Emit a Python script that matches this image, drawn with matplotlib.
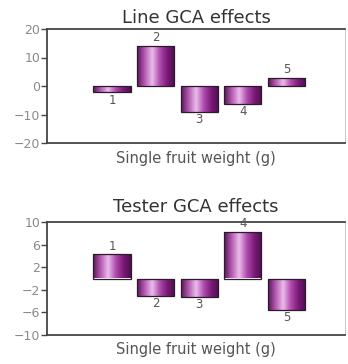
import numpy as np
import matplotlib.pyplot as plt
from matplotlib.colors import LinearSegmentedColormap

plt.rcParams['font.family'] = ['DejaVu Sans']

# GCA effects for single fruit weight (g)
parents = [1, 2, 3, 4, 5]
line_gca = [-2.2, 14.2, -9.0, -6.3, 2.9]
tester_gca = [4.3, -3.1, -3.2, 8.3, -5.5]

line_ticks = [20, 10, 0, -10, -20]
tester_ticks = [10, 6, 2, -2, -6, -10]

purple = LinearSegmentedColormap.from_list(
    'purple', ['#5a1458', '#b35ab0', '#ecbcec', '#b04cae', '#7a1a78', '#4e0e4c'])
grad = np.linspace(0, 1, 256).reshape(1, -1)


def gca_panel(ax, values, ticks, ylim, title, title_pad, label_pad):
    bars = ax.bar(parents, values, width=0.85, color='none',
                  edgecolor='#2a1a2a', linewidth=0.9, zorder=3)
    for bar, v, p in zip(bars, values, parents):
        x0, y0 = bar.get_x(), bar.get_y()
        w, h = bar.get_width(), bar.get_height()
        im = ax.imshow(grad, cmap=purple, aspect='auto', zorder=2,
                       extent=[x0, x0 + w, y0, y0 + h], interpolation='bicubic')
        im.set_clip_path(bar)
        off = (ylim[1] - ylim[0]) * 0.012
        if v >= 0:
            ax.text(p, v + off, str(p), ha='center', va='bottom',
                    fontsize=8.5, color='#555555')
        else:
            ax.text(p, v - off, str(p), ha='center', va='top',
                    fontsize=8.5, color='#555555')
    ax.set_xlim(-0.49, 6.34)
    ax.set_ylim(*ylim)
    ax.set_yticks(ticks)
    ax.set_xticks([])
    ax.tick_params(axis='y', direction='out', length=4, width=1,
                   labelsize=9, labelcolor='#8a8a8a', color='#444444', pad=1)
    for side in ['left', 'top', 'bottom']:
        ax.spines[side].set_color('#444444')
        ax.spines[side].set_linewidth(1.3)
    ax.spines['right'].set_color('#cccccc')
    ax.spines['right'].set_linewidth(0.8)
    ax.set_title(title, fontsize=13, color='#333333', pad=title_pad)
    ax.set_xlabel('Single fruit weight (g)', fontsize=10.5, color='#555555',
                  labelpad=label_pad)


fig = plt.figure(figsize=(3.48, 3.64), dpi=100)
W, H = 348, 364
ax1 = fig.add_axes([47 / W, 1 - 143 / H, 298 / W, 114 / H])
ax2 = fig.add_axes([47 / W, 1 - 335 / H, 298 / W, 113 / H])

gca_panel(ax1, line_gca, line_ticks, (-20, 20), 'Line GCA effects', 4, 6)
gca_panel(ax2, tester_gca, tester_ticks, (-10, 10), 'Tester GCA effects', 7, 5)

fig.savefig('out.png', dpi=100)
